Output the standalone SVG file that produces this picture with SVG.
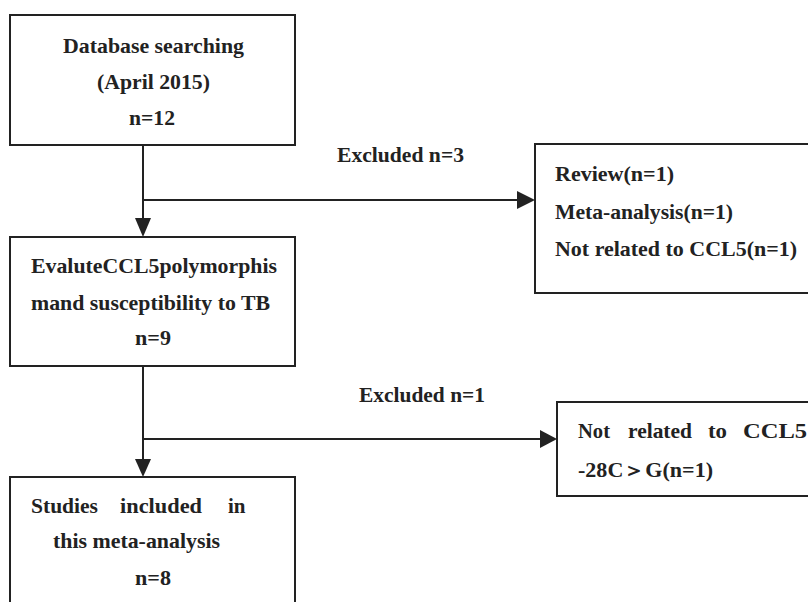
<svg xmlns="http://www.w3.org/2000/svg" width="808" height="602" viewBox="0 0 808 602">
<defs>
<style>
.box{fill:#fff;stroke:#222;stroke-width:2}
.t{font-family:"Liberation Serif","Times New Roman",serif;font-weight:bold;font-size:21px;fill:#222}
.ln{fill:none;stroke:#222;stroke-width:2}
</style>
</defs>
<rect width="808" height="602" fill="#fff"/>
<g id="connectors">
<line class="ln" x1="143" y1="145" x2="143" y2="220"/>
<path d="M135,218 L151,218 L143,237 Z" fill="#222"/>
<line class="ln" x1="143" y1="200" x2="520" y2="200"/>
<path d="M517,191 L535,200 L517,209 Z" fill="#222"/>
<line class="ln" x1="143" y1="366" x2="143" y2="461"/>
<path d="M135,459 L151,459 L143,477 Z" fill="#222"/>
<line class="ln" x1="143" y1="439" x2="542" y2="439"/>
<path d="M540,430 L557,439 L540,448 Z" fill="#222"/>
<text class="t" x="337" y="162" textLength="127" lengthAdjust="spacingAndGlyphs">Excluded n=3</text>
<text class="t" x="359" y="402" textLength="126" lengthAdjust="spacingAndGlyphs">Excluded n=1</text>
</g>
<g id="n1">
<rect class="box" x="10" y="15" width="285" height="130"/>
<text class="t" x="63" y="53" textLength="181" lengthAdjust="spacingAndGlyphs">Database searching</text>
<text class="t" x="97" y="89" textLength="113" lengthAdjust="spacingAndGlyphs">(April 2015)</text>
<text class="t" x="129" y="125" textLength="46" lengthAdjust="spacingAndGlyphs">n=12</text>
</g>
<g id="n2">
<rect class="box" x="10" y="237" width="285" height="129"/>
<text class="t" x="31" y="273" textLength="246" lengthAdjust="spacingAndGlyphs">EvaluteCCL5polymorphis</text>
<text class="t" x="31" y="310" textLength="239" lengthAdjust="spacingAndGlyphs">mand susceptibility to TB</text>
<text class="t" x="135" y="345" textLength="36" lengthAdjust="spacingAndGlyphs">n=9</text>
</g>
<g id="n3">
<rect class="box" x="10" y="477" width="285" height="140"/>
<text class="t" y="513"><tspan x="31" textLength="67" lengthAdjust="spacingAndGlyphs">Studies</tspan><tspan x="120" textLength="82" lengthAdjust="spacingAndGlyphs">included</tspan><tspan x="228">in</tspan></text>
<text class="t" x="53" y="548" textLength="167" lengthAdjust="spacingAndGlyphs">this meta-analysis</text>
<text class="t" x="135" y="585" textLength="36" lengthAdjust="spacingAndGlyphs">n=8</text>
</g>
<g id="n4">
<rect class="box" x="535" y="144" width="290" height="149"/>
<text class="t" x="555" y="181" textLength="119" lengthAdjust="spacingAndGlyphs">Review(n=1)</text>
<text class="t" x="555" y="219" textLength="178" lengthAdjust="spacingAndGlyphs">Meta-analysis(n=1)</text>
<text class="t" x="555" y="256" textLength="242" lengthAdjust="spacingAndGlyphs">Not related to CCL5(n=1)</text>
</g>
<g id="n5">
<rect class="box" x="557" y="402" width="270" height="94"/>
<text class="t" y="438"><tspan x="578" textLength="32" lengthAdjust="spacingAndGlyphs">Not</tspan><tspan x="628" textLength="64" lengthAdjust="spacingAndGlyphs">related</tspan><tspan x="708" textLength="19" lengthAdjust="spacingAndGlyphs">to</tspan><tspan x="743" textLength="64" lengthAdjust="spacingAndGlyphs">CCL5</tspan></text>
<text class="t" x="578" y="477" textLength="135" lengthAdjust="spacingAndGlyphs">-28C＞G(n=1)</text>
</g>
</svg>
